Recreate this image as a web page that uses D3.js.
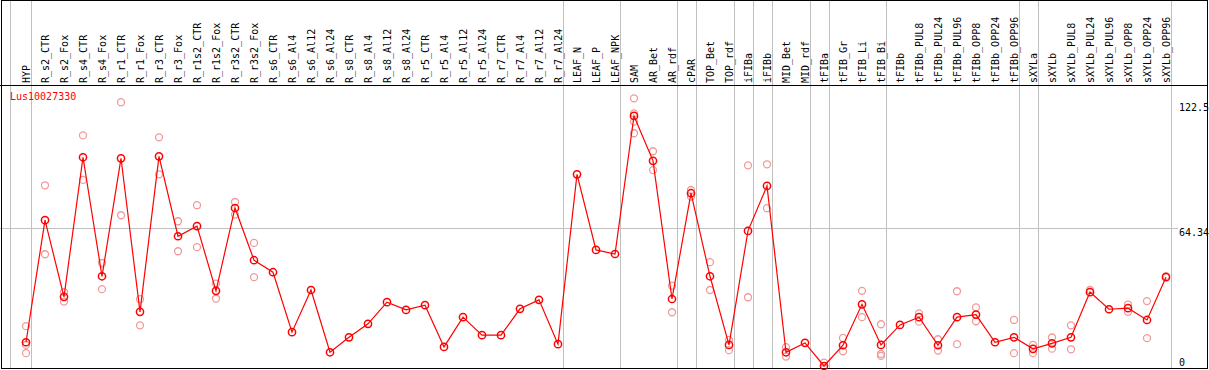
<!DOCTYPE html>
<html>
<meta charset="utf-8">
<style>
  body { margin: 0; background: #fff; }
  text { font-family: "DejaVu Sans Mono", monospace; font-size: 10px; }
</style>
<body>
<svg width="1209" height="370"></svg>
<script src="https://cdn.jsdelivr.net/npm/d3@7"></script>
<script>
const categories = ['HYP','R_s2_CTR','R_s2_Fox','R_s4_CTR','R_s4_Fox','R_r1_CTR','R_r1_Fox','R_r3_CTR','R_r3_Fox',
  'R_r1s2_CTR','R_r1s2_Fox','R_r3s2_CTR','R_r3s2_Fox','R_s6_CTR','R_s6_Al4','R_s6_Al12','R_s6_Al24',
  'R_s8_CTR','R_s8_Al4','R_s8_Al12','R_s8_Al24','R_r5_CTR','R_r5_Al4','R_r5_Al12','R_r5_Al24',
  'R_r7_CTR','R_r7_Al4','R_r7_Al12','R_r7_Al24','LEAF_N','LEAF_P','LEAF_NPK','SAM','AR_Bet','AR_rdf',
  'cPAR','TOP_Bet','TOP_rdf','iFIBa','iFIBb','MID_Bet','MID_rdf','tFIBa','tFIB_Gr','tFIB_Li','tFIB_Bi',
  'tFIBb','tFIBb_PUL8','tFIBb_PUL24','tFIBb_PUL96','tFIBb_OPP8','tFIBb_OPP24','tFIBb_OPP96',
  'sXYLa','sXYLb','sXYLb_PUL8','sXYLb_PUL24','sXYLb_PUL96','sXYLb_OPP8','sXYLb_OPP24','sXYLb_OPP96']

const meanValues = [11.1,68.1,32.3,97.5,41.9,97.0,25.3,97.9,60.6,
  65.3,35.1,73.8,49.4,43.8,15.8,35.5,6.4,
  13.4,19.7,29.8,26.2,28.4,8.9,22.8,14.4,
  14.4,26.7,30.9,10.2,89.5,54.2,52.3,116.8,95.8,31.3,
  80.7,41.9,9.85,63.1,84.1,6.4,10.8,0,9.7,28.8,9.85,
  19.2,22.8,9.7,22.8,24.0,11.1,13.4,
  8.0,10.6,13.4,34.5,26.5,27.0,21.5,41.5]

const replicateValues = [[18.6,9.85,6.0],[84.4,52.2],[34.5,30.1],[107.7,86.9],[48.1,35.9],[123.2,70.4],[31.2,19.0],[106.8,89.5],[67.6,53.6],
  [75.1,55.5],[38.5,31.5],[76.6,70.7],[57.5,41.5],[],[],[],[],
  [],[],[],[],[],[],[],[],
  [],[],[],[],[],[],[],[125.0,118.0,114.1,108.7],[100.3,91.5],[37.5,25.1],
  [82.2,79.1],[48.5,35.5],[12.2,7.4],[93.7,32.1],[94.2,73.7],[8.8,4.4],[],[1.6],[13.1,6.9],[35.1,22.8],[19.5,5.6,4.7],
  [],[24.6,20.7],[12.5,7.2],[34.9,10.2],[27.4,20.9],[],[21.5,6.0],
  [9.85,6.0],[13.3,8.1],[19.0,7.8],[35.5],[],[28.7,25.3],[30.3,13.0],[42.0]]

const groupEnds = ['HYP','R_r7_Al24','LEAF_NPK','AR_rdf','cPAR','TOP_rdf','iFIBa','iFIBb','MID_rdf',
  'tFIBa','tFIB_Bi','tFIBb_OPP96','sXYLa','sXYLb_OPP96']
const yTicks = [0, 64.34, 122.5]
const geneName = 'Lus10027330'

const svg = d3.select('svg')
const x = d3.scalePoint().domain(categories).range([26, 1166])
const y = d3.scaleLinear().domain([0, 122.5]).range([366, 103.7])

// vertical separators
svg.append('line').attr('x1', 10.5).attr('x2', 10.5).attr('y1', 0).attr('y2', 369)
  .attr('stroke', '#c0c0c0')
svg.append('g').selectAll('line').data(groupEnds).enter().append('line')
  .attr('x1', d => Math.round(x(d) + 4.7) + 0.5)
  .attr('x2', d => Math.round(x(d) + 4.7) + 0.5)
  .attr('y1', 0).attr('y2', 369)
  .attr('stroke', '#c0c0c0')

// horizontal grid at middle tick
svg.append('line').attr('x1', 0).attr('x2', 1178)
  .attr('y1', Math.round(y(64.34)) + 0.5).attr('y2', Math.round(y(64.34)) + 0.5)
  .attr('stroke', '#c0c0c0')

// frame and header line
svg.append('rect').attr('x', 1.5).attr('y', 0.5).attr('width', 1206).attr('height', 368)
  .attr('fill', 'none').attr('stroke', '#000')
svg.append('line').attr('x1', 0).attr('x2', 1208).attr('y1', 85.5).attr('y2', 85.5)
  .attr('stroke', '#000')

// column labels
svg.append('g').selectAll('text').data(categories).enter().append('text')
  .attr('transform', d => `translate(${x(d)},83) rotate(-90)`)
  .attr('dy', '0.35em')
  .attr('fill', '#000')
  .text(d => d)

// y axis on the right
const axis = svg.append('g')
  .attr('transform', 'translate(1179,0)')
  .call(d3.axisRight(y).tickValues(yTicks).tickSize(0).tickPadding(0).tickFormat(d => String(d)))
axis.select('.domain').remove()
axis.selectAll('text')
  .attr('font-family', '"DejaVu Sans Mono", monospace').attr('font-size', 10)
  .attr('fill', '#000')
  .attr('dy', d => d === 0 ? '-0.05em' : '0.68em')

// gene name
svg.append('text').attr('x', 10).attr('y', 100).attr('fill', '#ff0000').text(geneName)

// replicate points
const reps = []
replicateValues.forEach((vals, i) => vals.forEach(v => reps.push({ c: categories[i], v })))
svg.append('g').selectAll('circle').data(reps).enter().append('circle')
  .attr('cx', d => x(d.c)).attr('cy', d => y(d.v)).attr('r', 3.5)
  .attr('fill', 'none').attr('stroke', '#f09a9a').attr('stroke-width', 1.3)

// mean line
const line = d3.line().x((d, i) => x(categories[i])).y(d => y(d))
svg.append('path').datum(meanValues).attr('d', line)
  .attr('fill', 'none').attr('stroke', '#ff0000').attr('stroke-width', 1.2)

svg.append('g').selectAll('circle').data(meanValues).enter().append('circle')
  .attr('cx', (d, i) => x(categories[i])).attr('cy', d => y(d)).attr('r', 3.6)
  .attr('fill', 'none').attr('stroke', '#ff0000').attr('stroke-width', 1.5)
</script>
</body>
</html>
